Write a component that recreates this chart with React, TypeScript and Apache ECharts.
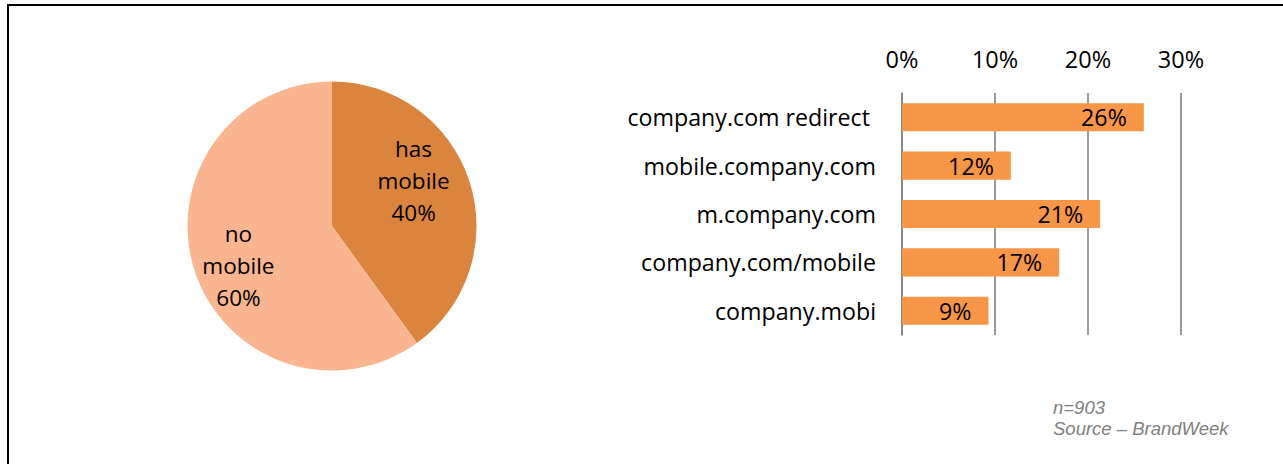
import React, { useEffect, useRef } from "react";
import * as echarts from "echarts";

const pieNames = ["has\nmobile", "no\nmobile"];
const pieValues = [40, 60];
const pieColors = ["#DB843D", "#F9B58F"];

const barCategories = [
  "company.com redirect ",
  "mobile.company.com",
  "m.company.com",
  "company.com/mobile",
  "company.mobi",
];
const barValues = [26.0, 11.7, 21.3, 16.9, 9.3];
const axisMax = 30;
const axisInterval = 10;

const footnotes = ["n=903", "Source \u2013 BrandWeek"];

const FONT = "'Open Sans', sans-serif";

export default function App() {
  const ref = useRef<HTMLDivElement>(null);
  useEffect(() => {
    if (!ref.current) return;
    const chart = echarts.init(ref.current, null, { renderer: "svg" });
    const pieOffsets = [
      [10, -22],
      [-22, 16],
    ];
    chart.setOption({
      animation: false,
      backgroundColor: "#ffffff",
      grid: { left: 902, top: 93, width: 279, height: 242, containLabel: false },
      xAxis: {
        type: "value",
        position: "top",
        min: 0,
        max: axisMax,
        interval: axisInterval,
        axisLine: { show: false },
        axisTick: { show: false },
        axisLabel: {
          formatter: "{value}%",
          fontSize: 23.5,
          fontFamily: FONT,
          color: "#000",
          margin: 22,
        },
        splitLine: { show: true, lineStyle: { color: "#828282", width: 1.6 } },
      },
      yAxis: {
        type: "category",
        inverse: true,
        data: barCategories,
        axisLine: { show: true, lineStyle: { color: "#828282", width: 1.6 } },
        axisTick: { show: false },
        axisLabel: {
          fontSize: 23.2,
          fontFamily: FONT,
          color: "#000",
          margin: 26,
        },
      },
      series: [
        {
          type: "pie",
          center: [332, 226],
          radius: 144.5,
          startAngle: 90,
          clockwise: true,
          silent: true,
          data: pieNames.map((n, i) => ({
            name: n,
            value: pieValues[i],
            itemStyle: { color: pieColors[i] },
          })),
          label: {
            show: true,
            position: "inside",
            formatter: (p: any) => `${p.name}\n${p.value}%`,
            fontSize: 22.5,
            lineHeight: 32,
            fontFamily: FONT,
            color: "#000",
            align: "center",
          },
          labelLine: { show: false },
          labelLayout: (p: any) => ({
            dx: pieOffsets[p.dataIndex][0],
            dy: pieOffsets[p.dataIndex][1],
          }),
        },
        {
          type: "bar",
          data: barValues,
          barCategoryGap: "42%",
          itemStyle: { color: "#F79646" },
          label: {
            show: true,
            position: "insideRight",
            distance: 17,
            formatter: (p: any) => `${Math.round(p.value)}%`,
            fontSize: 23.2,
            fontFamily: FONT,
            color: "#000",
          },
        },
      ],
      graphic: [
        {
          type: "line",
          shape: { x1: 7, y1: 5, x2: 1283, y2: 5 },
          style: { stroke: "#000", lineWidth: 2 },
        },
        {
          type: "line",
          shape: { x1: 8, y1: 4, x2: 8, y2: 464 },
          style: { stroke: "#000", lineWidth: 2 },
        },
        ...footnotes.map((t, i) => ({
          type: "text",
          x: 1053,
          y: 407 + i * 21,
          style: {
            text: t,
            fill: "#808080",
            font: "italic 18.5px 'Liberation Sans', Arial, sans-serif",
            textAlign: "left",
            textVerticalAlign: "middle",
          },
        })),
      ],
    });
    return () => chart.dispose();
  }, []);
  return (
    <div
      ref={ref}
      style={{ position: "absolute", left: 0, top: 0, width: 1283, height: 464 }}
    />
  );
}
